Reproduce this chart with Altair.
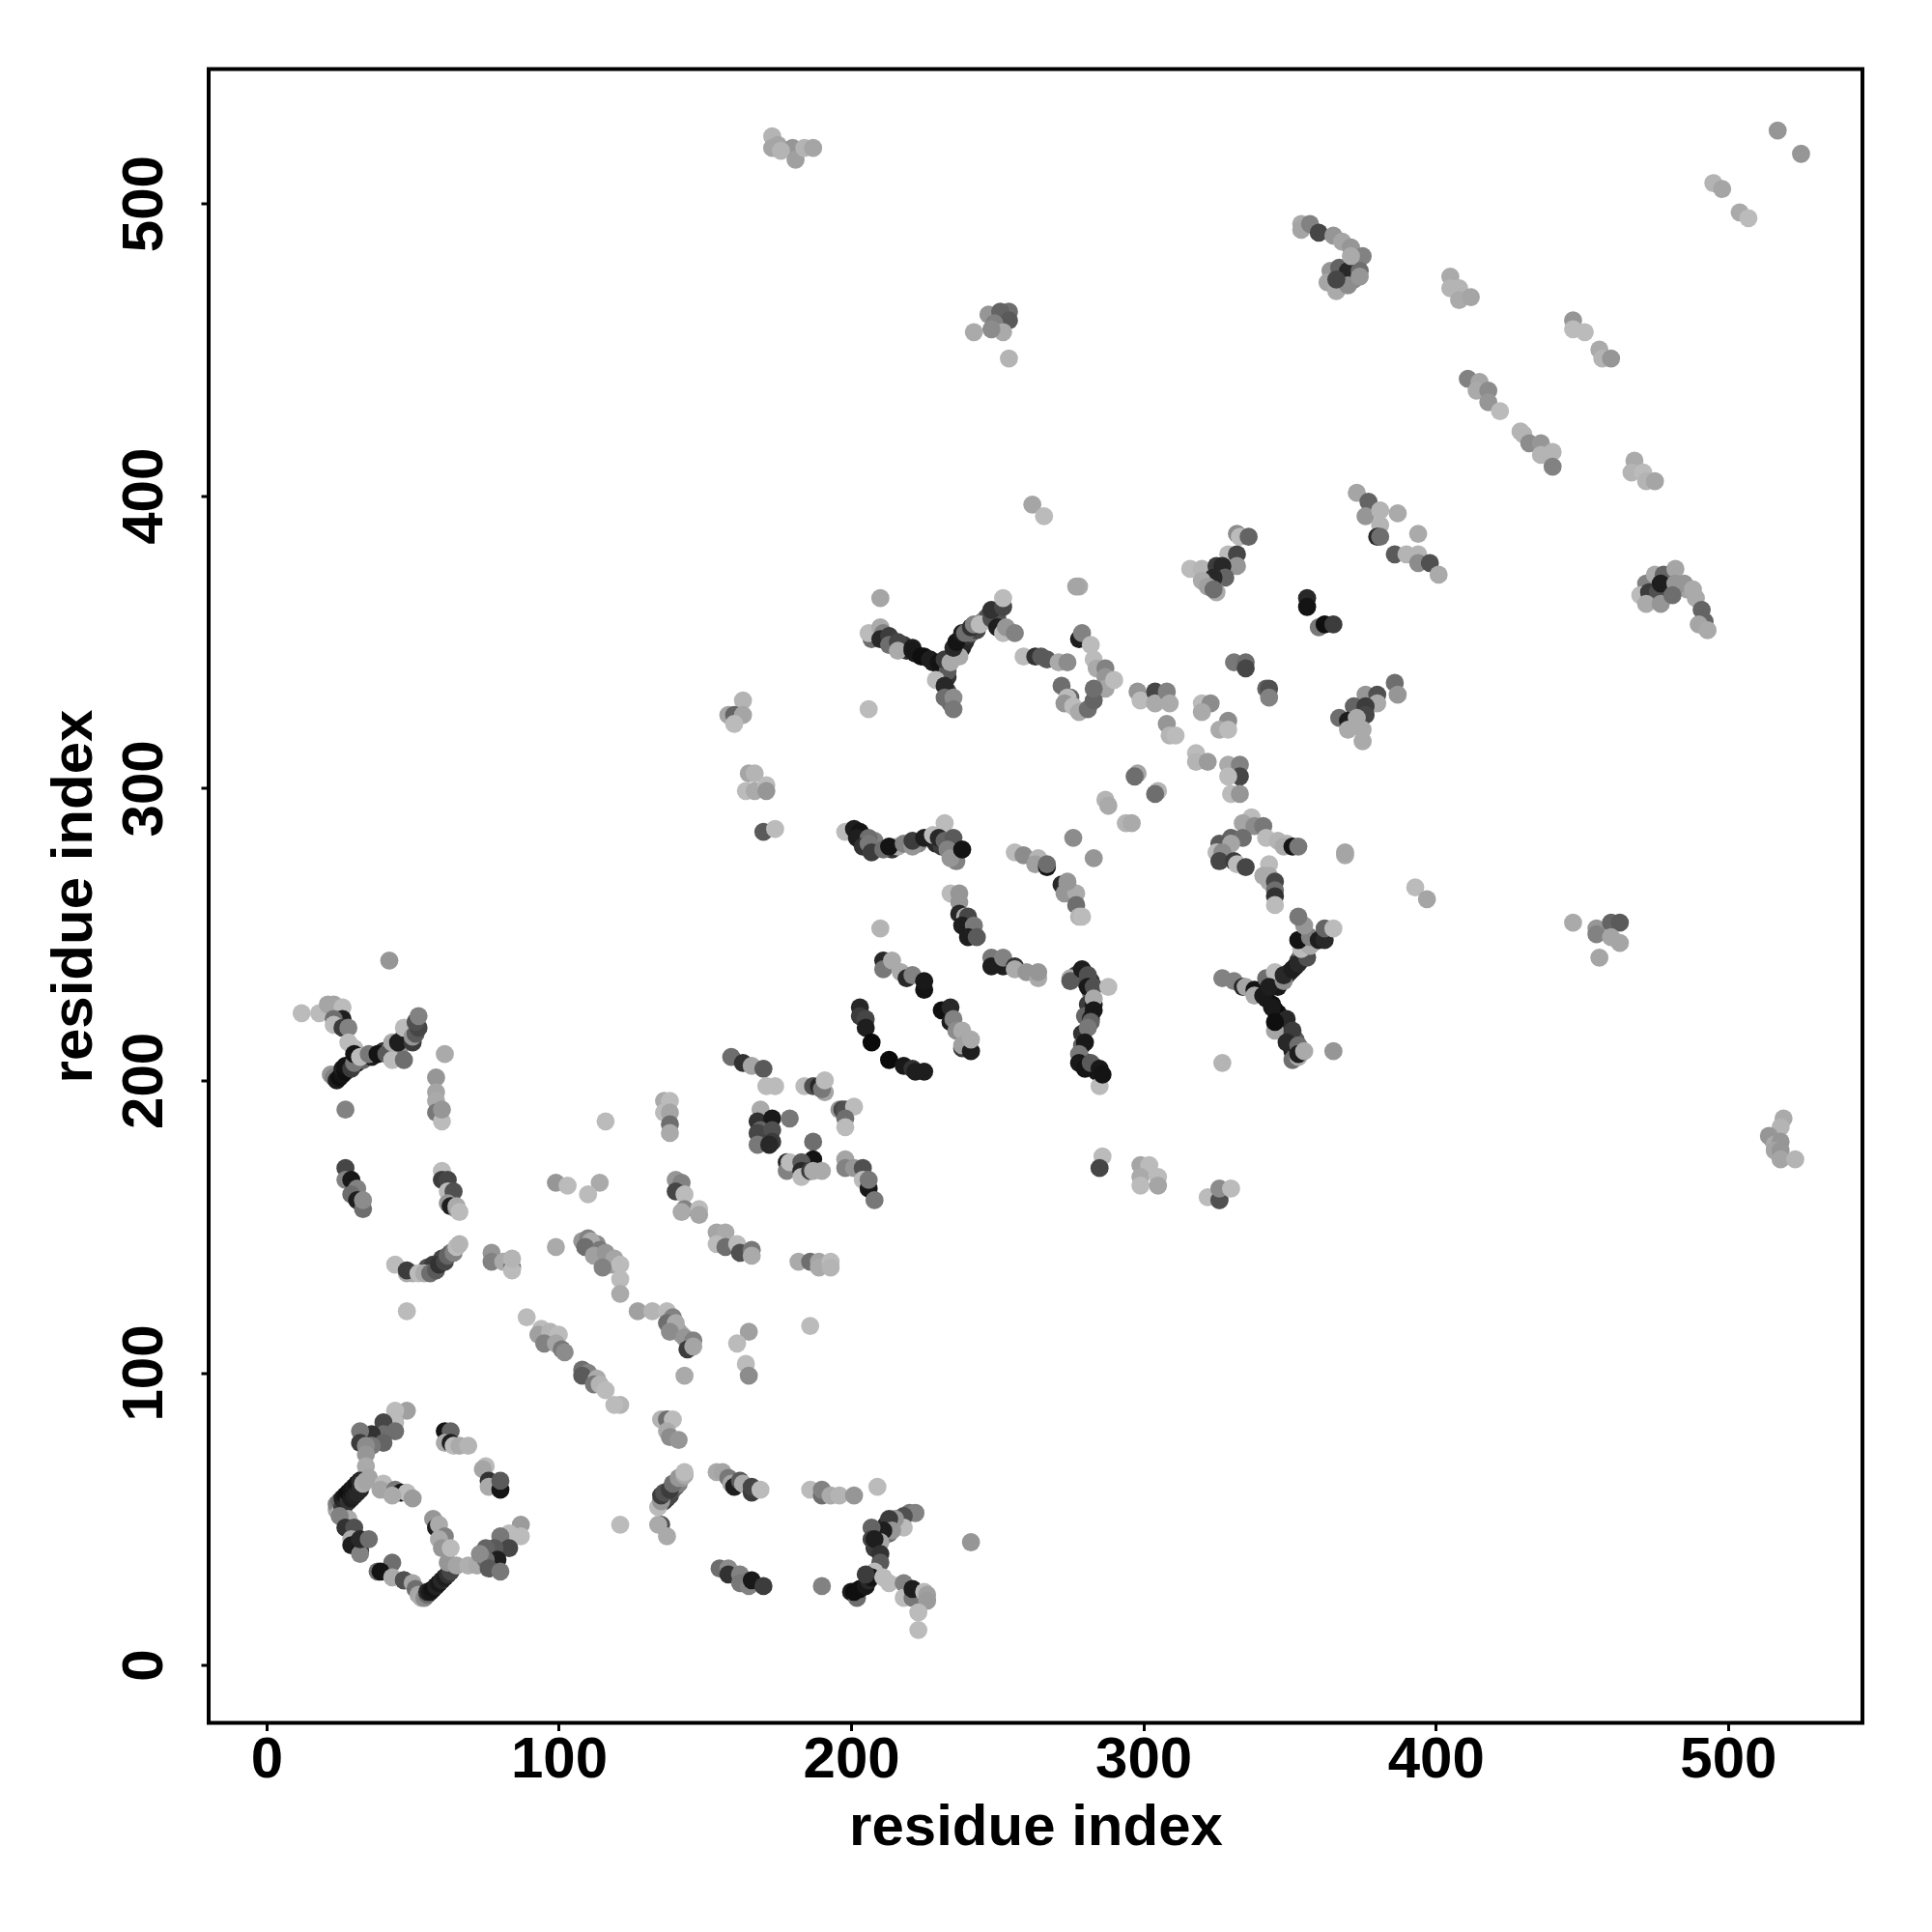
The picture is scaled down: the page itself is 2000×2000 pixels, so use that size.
import altair as alt
import pandas as pd

# each entry: residue x, residue y, grey level (0 black .. 255 white)
ring_top = [(48,87,160),(44,87,187),(44,83,187),(40,83,70),(44,80,110),(40,79,110),(36,79,50),(32,80,120),(32,76,60),(40,76,100),(36,75,120),(34,75,140),(34,72,150),(34,68,170),(34,65,170),(35,64,165)]
ring_diag = [(24,53,165),(24,55,130),(25,52,180),(25,56,110),(26,54,60),(26,57,30),(27,55,40),(27,58,20),(28,56,50),(28,59,15),(29,57,30),(29,60,20),(30,58,35),(30,61,25),(31,59,40),(31,62,20),(32,60,40),(32,63,40),(33,62,170),(34,63,165)]
ring_inner = [(40,62,187),(39,60,165),(44,60,120),(46,59,20),(48,59,187),(50,57,155),(43,58,170)]
ring_left = [(28,50,170),(25,51,130),(27,47,50),(30,47,80),(29,43,170),(29,41,30),(32,39,20),(32,38,130),(32,43,40),(35,43,110)]
ring_bottom = [(43,35,110),(38,32,110),(39,32,20),(43,30,170),(47,29,50),(47,29,80),(50,28,165),(51,26,110),(52,24,165),(53,23,170),(54,23,140),(55,24,110),(55,25,40),(56,25,25),(57,26,20),(58,27,35),(59,28,25),(60,29,40),(61,30,30),(62,31,50),(63,32,70)]
ring_mid = [(62,35,150),(65,34,165),(69,34,175),(72,34,170),(57,50,150),(58,47,30),(59,48,170),(61,44,130),(59,43,170),(60,40,150),(63,40,187)]
ring_right = [(87,48,155),(87,44,187),(83,45,187),(80,44,120),(83,40,70),(78,40,90),(75,40,100),(79,36,30),(75,36,110),(73,38,140),(76,33,90),(80,32,120)]
ring_upper = [(61,80,20),(63,80,100),(61,76,170),(63,76,30),(64,75,187),(66,75,170),(69,75,180),(75,68,187),(74,67,165),(76,63,50),(76,61,170),(80,60,20),(80,63,90)]

x_left_a = [(42,241,150),(12,223,187),(18,223,187),(21,226,165),(23,226,165),(26,225,187),(26,221,30),(23,221,110),(23,219,187),(26,218,60),(28,218,130),(28,213,187),(30,211,187)]
x_left_b = [(22,202,150),(23,201,130),(24,200,30),(25,201,15),(26,202,20),(26,204,30),(27,203,15),(27,205,20),(29,204,60),(30,206,120),(30,209,20),(32,208,187),(35,209,120),(38,209,20),(41,209,90),(43,207,187),(43,213,170),(45,213,30),(47,218,187),(50,213,60),(47,207,110),(50,215,150),(51,216,90),(52,218,70),(51,220,80),(52,222,130)]
col_58 = [(61,209,170),(58,201,150),(58,196,165),(58,193,170),(58,189,120),(60,186,187),(60,190,150),(27,190,130)]
str_27 = [(27,170,70),(27,166,130),(29,166,25),(31,163,130),(29,161,110),(31,159,30),(33,156,110),(33,159,140)]
str_60 = [(60,169,187),(60,166,60),(62,166,70),(62,162,187),(64,162,80),(62,158,150),(63,157,30),(65,156,130),(65,157,170),(66,155,187)]
arc_136 = [(44,137,187),(48,134,170),(48,135,60),(52,134,187),(54,134,170),(56,134,110),(58,135,90),(59,137,50),(61,138,70),(62,140,100),(64,141,130),(65,143,187),(66,144,180),(48,121,187)]
str_80 = [(77,141,150),(77,138,130),(81,138,170),(84,136,110),(84,135,187),(84,139,180),(99,143,170),(99,165,150),(103,164,187),(114,165,170),(110,161,187),(116,186,187)]
col_137 = [(136,193,170),(138,193,187),(136,189,187),(138,189,165),(138,185,110),(138,182,170)]
diag_115 = [(108,145,150),(110,146,130),(111,145,170),(109,143,110),(114,142,120),(112,140,160),(116,141,150),(119,139,165),(115,136,130),(121,137,187),(121,132,187),(121,127,170)]
str_142 = [(140,166,150),(142,165,130),(140,162,70),(143,161,187),(143,156,130),(142,155,170),(148,156,187),(148,154,165)]
str_156 = [(154,148,165),(157,148,170),(154,144,187),(157,143,110),(161,144,187),(162,141,80),(166,142,120),(166,140,170)]
row_190 = [(182,138,170),(186,138,110),(189,138,165),(189,136,170),(193,138,187),(193,136,180)]
diag_140 = [(127,121,160),(132,121,180),(137,121,187),(139,119,130),(137,117,110),(140,117,170),(138,114,140),(143,112,150),(146,111,130),(144,108,60),(146,109,165)]
single_a = [(165,114,160),(161,110,187),(164,103,187),(165,99,140),(186,116,187),(143,99,170),(121,89,180),(135,84,180),(137,84,110),(139,84,187),(137,80,170),(138,78,140),(141,77,150)]
block_170 = [(169,190,170),(168,186,50),(173,187,25),(179,187,120),(169,183,100),(168,182,70),(173,183,80),(168,178,120),(173,179,60),(172,178,40)]
block_183 = [(187,179,110),(187,173,20),(178,172,40),(178,169,130),(179,172,187),(183,172,90),(183,169,40),(183,167,187),(186,169,60),(187,169,170),(190,169,170)]
block_198 = [(196,190,150),(197,190,70),(198,190,80),(201,191,187),(198,187,110),(198,184,187),(198,173,165),(198,170,130),(201,170,150),(204,170,80),(204,166,187),(206,163,25),(206,166,120),(208,159,120)]
line_165 = [(159,208,110),(163,206,50),(166,205,165),(170,204,90),(171,198,187),(174,198,187),(184,198,187),(187,198,80),(189,198,40),(191,196,165),(190,197,120),(191,200,187)]
diag_95 = [(89,119,187),(94,115,187),(93,113,160),(97,114,180),(100,113,187),(95,110,130),(99,110,165),(101,108,120),(102,107,140)]
diag_110 = [(108,101,110),(110,100,130),(108,99,90),(113,98,170),(112,96,120),(114,96,180),(116,94,187),(119,89,187),(121,48,187)]
arc_140 = [(135,48,80),(134,48,170),(137,44,170),(134,54,187),(135,56,150),(135,58,60),(136,59,80),(138,60,60),(139,62,110),(141,64,150),(143,65,170),(143,66,187)]
arc_160 = [(154,66,170),(156,66,165),(158,64,120),(159,62,165),(160,61,30),(162,63,90),(163,62,170),(166,59,60),(166,61,70),(169,60,187)]
row_195 = [(186,60,187),(190,58,110),(190,60,130),(193,58,170),(196,58,180),(201,58,150),(209,61,187)]
arm_215 = [(222,52,130),(218,51,80),(218,47,187),(215,50,150),(213,50,60),(214,46,150),(211,46,30),(210,42,165),(207,47,100),(207,43,70),(208,43,30),(210,38,50),(210,35,90),(208,32,187)]
arm_205 = [(200,25,30),(202,23,110),(201,25,15),(203,26,15),(205,27,25),(206,29,40),(207,30,20),(205,31,60),(211,30,187),(213,28,187),(218,28,130),(218,23,187),(221,23,120),(221,26,30),(225,25,187),(226,24,160),(226,22,155),(223,18,187),(223,12,187),(241,42,150),(190,27,130)]
low_160 = [(155,33,110),(158,33,140),(158,31,50),(162,31,130),(162,28,120),(165,27,130),(166,29,25),(170,27,60)]

y_350_a = [(210,365,165),(207,351,110),(206,353,187),(210,355,170),(211,353,130),(210,351,40),(213,352,60),(213,349,110),(216,350,70),(216,347,170),(221,348,30),(221,347,25),(224,345,15),(227,344,30),(230,343,20),(233,340,90),(229,337,187),(232,335,40),(232,331,110),(235,331,140),(235,327,120)]
y_350_b = [(232,344,60),(234,343,170),(237,345,170),(235,348,40),(236,350,20),(238,353,30),(239,353,110),(241,355,50),(242,356,130),(244,356,187),(248,358,80),(248,361,50),(252,362,70),(252,365,187),(250,355,30),(252,353,187),(253,355,150),(256,353,130),(206,327,187)]
sh_280 = [(278,369,170),(278,351,30),(279,353,130),(282,349,187),(283,344,187),(284,341,170),(287,341,130),(287,338,150),(287,334,165),(290,337,187)]
row_265 = [(259,345,187),(263,345,50),(265,345,90),(267,344,90),(271,343,170),(274,343,140),(272,335,110),(275,331,100),(274,331,187),(273,329,150),(276,328,187),(278,326,170),(281,327,110),(283,330,100),(283,334,110)]
row_300 = [(298,333,150),(299,330,187),(304,333,70),(304,329,170),(308,333,130),(309,329,170),(308,322,150),(309,318,180),(311,318,187),(318,312,187),(318,309,180),(322,309,155)]
rows_290 = [(298,305,165),(297,304,110),(305,299,180),(304,298,110),(287,296,180),(288,294,170),(294,288,180),(296,288,170),(276,283,140),(283,276,150)]
line_285a = [(198,285,187),(201,286,30),(203,285,20),(202,283,30),(206,283,110),(204,280,50),(206,281,120),(207,278,60),(211,279,110),(213,280,20),(218,281,130),(221,280,150),(221,282,60),(225,283,30)]
line_285b = [(228,284,187),(232,288,187),(230,283,40),(232,282,100),(235,283,90),(233,279,130),(234,276,150),(238,279,20)]
str_265 = [(256,278,187),(259,277,140),(264,276,180),(263,274,160),(267,273,20),(267,274,110),(272,267,40),(274,267,140),(273,264,150),(277,264,170),(277,260,110),(278,256,180),(279,256,187),(274,268,150)]
str_238 = [(234,264,187),(237,264,150),(237,261,150),(237,257,40),(239,256,170),(240,256,70),(238,253,30),(242,253,120),(240,249,30),(243,249,90),(210,252,180)]
str_215 = [(211,241,40),(211,238,120),(214,241,170),(217,237,170),(219,235,40),(221,236,130),(225,231,20),(225,234,25)]
cur_205 = [(203,225,40),(203,222,60),(205,221,70),(205,218,30),(207,213,10),(213,207,10),(218,205,25),(221,204,50),(222,203,30),(225,203,30)]
str_235 = [(231,224,15),(234,225,40),(234,220,30),(235,221,130),(236,217,140),(238,217,170),(238,211,60),(238,212,160),(241,210,30),(241,214,170)]
str_255 = [(248,242,120),(248,239,30),(252,239,30),(252,242,130),(256,239,50),(256,238,170),(260,237,150),(264,235,170),(264,237,150)]
y_right = [(275,235,170),(275,234,90),(279,238,30),(281,236,80),(281,232,25),(283,232,80),(283,228,170),(283,224,25),(282,221,25),(282,220,100),(281,218,120),(280,213,25),(278,209,120),(278,206,25),(280,204,20),(282,206,90),(285,198,187),(285,204,25),(286,202,20),(288,232,187)]
bits_300 = [(286,174,187),(285,170,70),(299,171,165),(302,171,187),(299,167,170),(299,164,187),(305,167,187),(305,164,165),(322,160,187),(326,159,170),(326,159,80),(326,163,140),(330,163,187),(327,206,180)]
y_340_a = [(327,235,130),(331,234,130),(334,232,40),(335,232,165),(338,231,20),(338,229,170),(341,229,25),(342,235,110),(345,237,187),(343,232,30),(348,234,140),(348,236,40),(351,238,30),(353,240,40),(356,242,80),(354,245,187),(357,246,170),(353,248,20),(357,249,130),(360,248,30),(362,248,40),(362,252,100),(365,252,187),(355,253,150),(353,256,120)]
y_340_b = [(345,224,10),(344,225,25),(349,221,40),(345,217,165),(345,220,15),(351,217,60),(349,213,40),(353,212,110),(351,207,110),(353,208,170),(353,209,30),(355,210,170),(365,210,150)]
loop_335 = [(337,290,187),(334,288,165),(338,287,140),(341,287,120),(330,283,100),(334,283,110),(326,281,90),(330,281,165),(325,278,187),(327,278,140),(326,275,70),(331,275,60),(332,274,187),(335,273,70)]
row_345 = [(342,283,187),(346,282,180),(349,281,180),(348,280,170),(351,280,20),(353,280,120),(343,274,187),(341,270,170),(343,270,170),(343,268,170),(345,268,70),(345,265,110),(345,263,50),(345,260,187),(369,277,170),(369,278,165)]
far_395 = [(393,266,187),(397,262,165),(447,254,170)]
cl_330 = [(332,387,140),(333,386,187),(336,386,100),(329,380,187),(332,380,70),(332,376,150),(316,375,187),(320,375,180),(325,376,60),(327,376,40),(328,372,100),(324,372,40),(320,371,170),(322,369,160),(325,367,170),(324,368,110)]
dark_360 = [(356,365,40),(356,362,20),(360,355,120),(362,356,15),(365,356,60)]
cl_335 = [(331,343,120),(335,343,110),(335,341,70),(342,334,100),(343,334,80),(343,331,130),(320,329,187),(323,329,140),(320,326,170),(329,323,140),(326,320,170),(329,320,187)]
cl_375 = [(386,336,110),(387,332,150),(376,332,150),(380,332,80),(380,329,170),(372,328,100),(376,328,60),(376,325,70),(367,324,110),(370,323,30),(373,324,170),(370,320,170),(375,320,170),(375,316,170)]
cl_330b = [(329,308,170),(333,308,130),(333,304,70),(329,304,187),(330,298,187),(333,298,150)]
blob_250 = [(242,456,170),(247,462,150),(254,463,110),(251,463,100),(254,460,90),(249,459,130),(252,456,170),(248,457,140),(254,447,180)]
blob_365 = [(354,493,170),(354,491,165),(357,493,130),(360,490,70),(365,489,150),(368,487,165),(371,485,150),(375,482,130),(364,477,150),(363,473,165),(367,478,100),(366,470,170),(370,477,40),(370,472,140),(374,477,110),(374,475,150),(371,482,170),(366,474,70)]
far_ur = [(495,507,180),(498,505,165),(504,497,170),(507,495,187),(517,525,150),(525,517,150),(405,475,170),(405,471,180),(408,471,180),(408,467,170),(412,468,165)]
far_450 = [(447,460,150),(447,457,187),(451,456,187),(456,450,170),(457,447,180),(460,447,150)]
line_425 = [(411,440,130),(415,439,165),(414,436,170),(418,436,140),(418,432,150),(422,429,187),(429,422,180),(430,421,180),(432,418,140),(436,418,150),(436,414,180),(440,415,180),(440,410,130)]
far_470 = [(468,412,170),(467,408,180),(471,408,187),(472,405,180),(475,405,165)]
cl_480 = [(472,370,130),(470,366,187),(473,367,60),(476,367,80),(472,363,170),(477,363,150),(475,373,170),(478,373,100),(477,370,30),(482,375,165),(482,370,150),(485,370,150),(481,366,110),(488,368,170),(489,365,170),(491,361,100),(492,357,100),(490,356,165),(493,354,170)]
sides = [(262,397,165),(266,393,187),(277,369,165)]
cl_385 = [(373,401,165),(377,398,100),(376,393,150),(381,395,180),(387,394,170),(381,390,180),(380,386,40),(381,386,110),(394,387,170),(386,380,90),(390,380,180),(394,380,180),(394,377,140),(398,377,80),(401,373,170)]
blob_460 = [(455,252,150),(460,254,100),(463,254,90),(455,250,130),(460,249,165),(463,247,165),(456,242,165)]
top_178 = [(173,523,180),(173,519,165),(175,520,165),(180,519,150),(176,518,180),(181,515,160),(184,519,180),(187,519,165)]
col_160 = [(163,330,180),(158,325,165),(160,325,100),(163,325,165),(160,322,187),(165,305,165),(167,305,180),(164,299,187),(167,299,170),(171,301,187),(171,299,150),(170,285,90),(174,286,187)]
right_518 = [(519,187,170),(518,184,180),(515,180,170),(514,181,150),(516,178,170),(518,179,150),(516,176,165),(518,176,150),(518,173,165),(523,173,180)]

# extra points that sit underneath the groups above
under_y350 = [(218,349,60),(219,347,50),(222,346,30),(225,345,30),(228,343,25),(231,341,30),(233,338,50),(231,339,30),(236,346,30),(237,347,40),(238,348,30),(239,350,40),(240,352,50),(241,353,110),(243,354,70),(245,357,110),(246,358,130),(247,359,80),(250,358,80),(233,333,70),(234,329,110)]
under_y340 = [(344,233,30),(345,234,40),(346,232,25),(347,235,30),(349,236,30),(350,237,40),(352,239,30),(353,241,60),(354,243,110),(355,246,150),(356,247,40),(358,247,170),(342,228,25),(344,226,15),(346,223,20),(347,221,25),(348,219,40),(349,216,60),(350,214,50),(352,214,90),(351,210,30),(352,211,100)]
under_line = [(208,282,130),(205,281,70),(203,284,30),(214,279,50),(216,280,170),(223,281,140),(229,281,40),(231,280,60),(236,279,70),(235,277,120),(236,275,130)]
under_yright = [(277,236,60),(278,236,50),(280,234,70),(282,234,60),(282,230,110),(281,226,60),(280,222,100),(283,226,30),(279,216,50),(279,212,100),(279,207,60),(281,206,30),(283,205,80),(284,203,25)]
under_x = [(31,206,30),(28,204,25),(30,207,40),(33,207,100),(36,208,30),(40,210,50),(42,210,170),(44,211,100),(46,212,150),(47,215,110),(48,214,170),(49,216,110),(46,208,140),(44,208,120)]
under_ring = [(50,134,175),(55,136,80),(57,137,60),(60,139,70),(63,141,120),(77,38,70),(79,39,60),(81,41,90),(82,43,110)]
under_arm = [(209,44,30),(212,48,40),(214,48,130),(216,50,100),(220,52,120),(208,40,60),(211,44,60),(213,45,110)]
under_arc = [(136,56,70),(137,57,60),(138,58,70),(139,60,80),(140,61,100),(141,62,130),(142,64,160)]
under_diag = [(141,114,130),(142,113,165),(144,111,140),(145,110,60),(110,143,150),(113,144,140),(112,142,130),(117,139,130),(118,137,160)]
under_far = [(474,369,110),(478,368,60),(480,372,120),(486,368,165),(368,475,80),(372,474,130),(368,472,165)]

groups = [under_y350, under_y340, under_line, under_yright, under_x, under_ring, under_arm, under_arc, under_diag, under_far,
          ring_top, ring_diag, ring_inner, ring_left, ring_bottom, ring_mid, ring_right, ring_upper,
          x_left_a, x_left_b, col_58, str_27, str_60, arc_136, str_80, col_137, diag_115, str_142, str_156,
          row_190, diag_140, single_a, block_170, block_183, block_198, line_165, diag_95, diag_110, arc_140,
          arc_160, row_195, arm_215, arm_205, low_160, y_350_a, y_350_b, sh_280, row_265, row_300, rows_290,
          line_285a, line_285b, str_265, str_238, str_215, cur_205, str_235, str_255, y_right, bits_300,
          y_340_a, y_340_b, loop_335, row_345, far_395, cl_330, dark_360, cl_335, cl_375, cl_330b, blob_250,
          blob_365, far_ur, far_450, line_425, far_470, cl_480, sides, cl_385, blob_460, top_178, col_160, right_518]
rows = [p for g in groups for p in g]
df = pd.DataFrame(rows, columns=["x", "y", "g"]).reset_index()
df["grey"] = df["g"].map(lambda v: "#{0:02x}{0:02x}{0:02x}".format(v))

tick_values = [0, 100, 200, 300, 400, 500]
axis_domain = [-19.8, 546]
FONT = "Liberation Sans"
common = dict(values=tick_values, grid=False, domain=False, ticks=True, tickColor="black", tickWidth=3,
              tickSize=8, labelFont=FONT, labelFontWeight="bold", labelFontSize=60, labelColor="black",
              titleFont=FONT, titleFontWeight="bold", titleFontSize=60, titleColor="black", format="d")

chart = alt.Chart(df).mark_circle(size=352, opacity=1).encode(
    x=alt.X("x:Q", scale=alt.Scale(domain=axis_domain, nice=False, zero=False),
            axis=alt.Axis(title="residue index", labelPadding=1, labelAngle=0, labelAlign="center",
                          labelBaseline="top", titlePadding=11, **common)),
    y=alt.Y("y:Q", scale=alt.Scale(domain=axis_domain, nice=False, zero=False),
            axis=alt.Axis(title="residue index", labelPadding=28, labelAngle=270, labelAlign="center",
                          labelBaseline="bottom", titlePadding=12, **common)),
    color=alt.Color("grey:N", scale=None, legend=None),
    order=alt.Order("index:Q"),
).properties(
    width=1712, height=1712,
    padding={"left": 208, "top": 63.5, "right": 60, "bottom": 200},
    autosize=alt.AutoSizeParams(type="none"),
    background="white",
).configure_view(stroke="black", strokeWidth=4, fill="white")

chart.save("out.html", embed_options={"renderer": "svg", "actions": False})
